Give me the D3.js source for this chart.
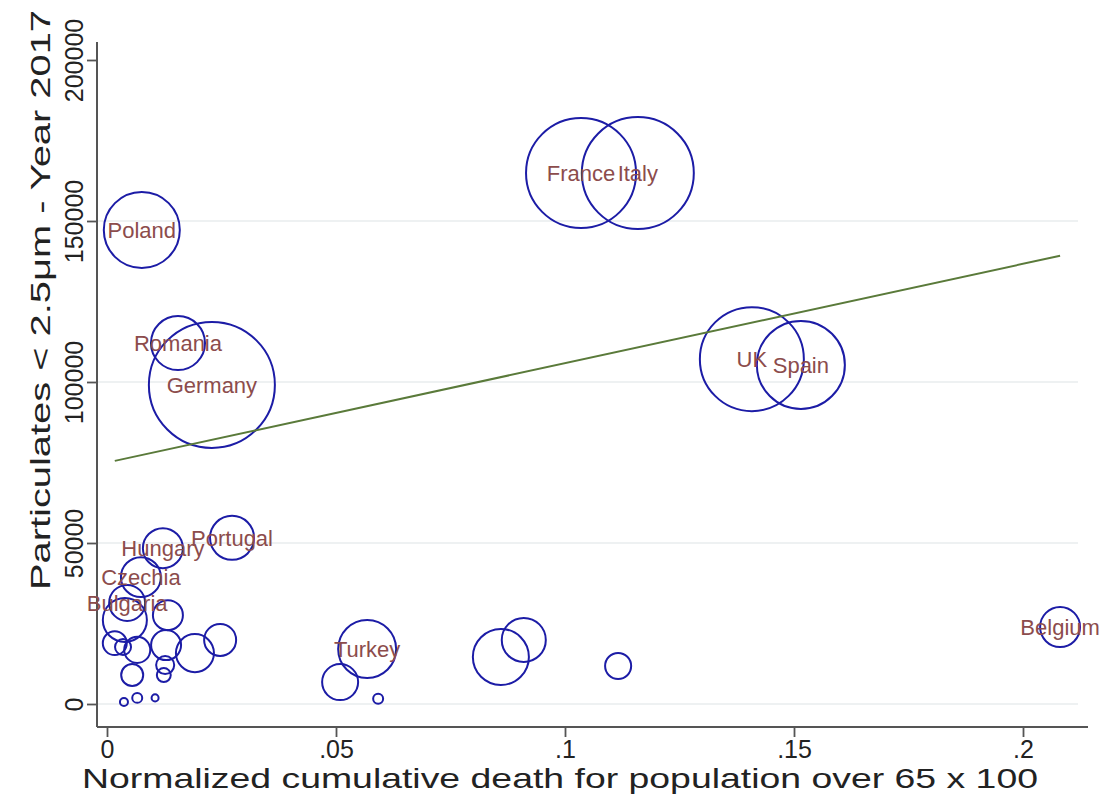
<!DOCTYPE html>
<html>
<head>
<meta charset="utf-8">
<script src="https://cdn.jsdelivr.net/npm/d3@7"></script>
<style>
  body { margin: 0; background: #fff; }
  svg { display: block; }
  text { font-family: "Liberation Sans", Arial, sans-serif; }
</style>
</head>
<body>
<div id="chart"></div>
<script>
// country labels ("" = unlabeled marker)
const countries = ["Poland", "Romania", "Germany", "France", "Italy", "UK", "Spain", "Belgium",
  "Turkey", "Portugal", "Hungary", "Czechia", "Bulgaria",
  "", "", "", "", "", "", "", "", "", "", "", "", "", "", "", "", "", "", ""];
// normalized cumulative death for population over 65 x 100
const deaths = [0.0076, 0.0155, 0.0229, 0.1035, 0.1159, 0.1408, 0.1515, 0.2081,
  0.0568, 0.0273, 0.0122, 0.0074, 0.0044,
  0.0039, 0.0133, 0.0017, 0.0035, 0.0066, 0.0129, 0.0192, 0.0247, 0.0055, 0.0127, 0.0124,
  0.0037, 0.0066, 0.0105, 0.0509, 0.0592, 0.0860, 0.0910, 0.1116];
// particulates < 2.5um, year 2017
const pm25 = [147200, 112100, 99100, 164900, 164900, 107100, 105300, 23900,
  17100, 51600, 48400, 39400, 31400,
  26100, 27600, 18900, 17700, 16800, 18300, 15800, 19900, 9000, 12100, 9000,
  600, 1900, 1900, 6800, 1600, 14600, 19900, 11800];
// bubble weights
const weights = [6.55, 3.31, 18.0, 13.72, 14.22, 12.26, 8.78, 1.81,
  3.81, 2.2, 1.81, 1.81, 1.47,
  2.2, 1.02, 0.65, 0.29, 0.77, 1.02, 1.64, 1.16, 0.55, 0.37, 0.22,
  0.073, 0.113, 0.056, 1.47, 0.113, 3.56, 2.2, 0.77];
// fitted line end points
const fitX = [0.0017, 0.2081];
const fitY = [75500, 139200];

const xTicks = [0, 0.05, 0.1, 0.15, 0.2];
const yTicks = [0, 50000, 100000, 150000, 200000];
const gridTicks = [0, 50000, 100000, 150000];

const width = 1104, height = 794;
const plot = { left: 97, right: 1088, top: 42, bottom: 727 };

const svg = d3.select("#chart").append("svg")
  .attr("width", width)
  .attr("height", height);

const x = d3.scaleLinear().domain([0, 0.2]).range([107, 1023]);
const y = d3.scaleLinear().domain([0, 200000]).range([704, 60]);
const r = d3.scaleSqrt().domain([0, 18]).range([0, 63]);

const data = countries.map((c, i) => ({ name: c, x: deaths[i], y: pm25[i], w: weights[i] }));

// gridlines
svg.append("g").selectAll("line").data(gridTicks).join("line")
  .attr("x1", plot.left).attr("x2", 1078)
  .attr("y1", d => y(d)).attr("y2", d => y(d))
  .attr("stroke", "#e8ecee").attr("stroke-width", 1.5);

// axes
const yAxis = svg.append("g").attr("transform", `translate(${plot.left},0)`)
  .call(d3.axisLeft(y).tickValues(yTicks).tickSize(10).tickFormat(d3.format("d")));
yAxis.select(".domain").remove();
yAxis.selectAll(".tick line").attr("stroke", "#555").attr("stroke-width", 1.8);
yAxis.selectAll(".tick text")
  .attr("transform", "rotate(-90)")
  .attr("x", 0).attr("y", -14)
  .attr("dy", 0)
  .attr("text-anchor", "middle")
  .attr("font-size", 25).attr("fill", "#222");

const xAxis = svg.append("g").attr("transform", `translate(0,${plot.bottom})`)
  .call(d3.axisBottom(x).tickValues(xTicks).tickSize(10)
    .tickFormat(d => d === 0 ? "0" : String(d).replace(/^0/, "")));
xAxis.select(".domain").remove();
xAxis.selectAll(".tick line").attr("stroke", "#555").attr("stroke-width", 1.8);
xAxis.selectAll(".tick text")
  .attr("y", 13).attr("dy", "0.71em")
  .attr("font-size", 25).attr("fill", "#222");

svg.append("line")
  .attr("x1", plot.left).attr("x2", plot.left)
  .attr("y1", plot.top).attr("y2", plot.bottom)
  .attr("stroke", "#555").attr("stroke-width", 2);
svg.append("line")
  .attr("x1", plot.left).attr("x2", plot.right)
  .attr("y1", plot.bottom).attr("y2", plot.bottom)
  .attr("stroke", "#555").attr("stroke-width", 2);

// bubbles
svg.append("g").selectAll("circle").data(data).join("circle")
  .attr("cx", d => x(d.x))
  .attr("cy", d => y(d.y))
  .attr("r", d => r(d.w))
  .attr("fill", "none")
  .attr("stroke", "#1c1ca6")
  .attr("stroke-width", 2);

// fitted line
svg.append("path")
  .datum(fitX.map((v, i) => [v, fitY[i]]))
  .attr("d", d3.line().x(d => x(d[0])).y(d => y(d[1])))
  .attr("fill", "none")
  .attr("stroke", "#5a7a3a")
  .attr("stroke-width", 2);

// labels
svg.append("g").selectAll("text").data(data.filter(d => d.name)).join("text")
  .attr("x", d => x(d.x))
  .attr("y", d => y(d.y))
  .attr("dy", "0.36em")
  .attr("text-anchor", "middle")
  .attr("font-size", 22)
  .attr("fill", "#8c4c4c")
  .text(d => d.name);

// axis titles
svg.append("text")
  .attr("x", 560).attr("y", 788)
  .attr("text-anchor", "middle")
  .attr("font-size", 28)
  .attr("textLength", 956).attr("lengthAdjust", "spacingAndGlyphs")
  .attr("fill", "#222")
  .text("Normalized cumulative death for population over 65 x 100");

svg.append("text")
  .attr("transform", "translate(50,300) rotate(-90)")
  .attr("text-anchor", "middle")
  .attr("font-size", 28)
  .attr("textLength", 580).attr("lengthAdjust", "spacingAndGlyphs")
  .attr("fill", "#222")
  .text("Particulates < 2.5μm  - Year 2017");
</script>
</body>
</html>
